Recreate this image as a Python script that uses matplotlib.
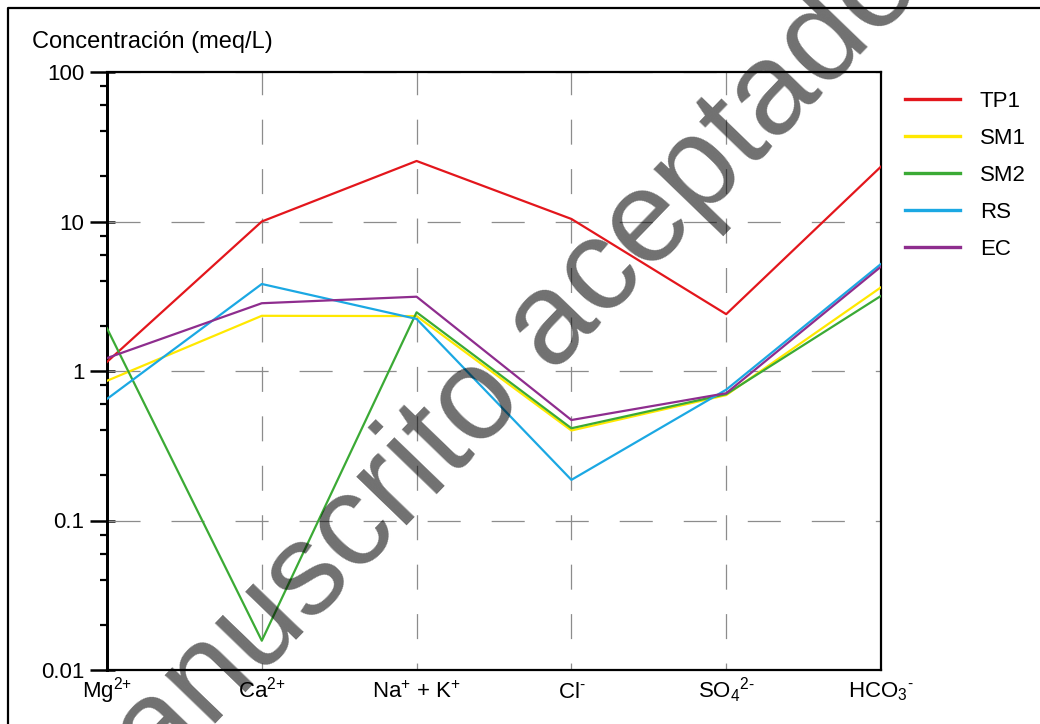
import matplotlib

matplotlib.use("Agg")
import matplotlib.pyplot as plt
from matplotlib.lines import Line2D
from matplotlib.ticker import LogLocator, NullFormatter, FixedLocator

plt.rcParams["font.family"] = ["Liberation Sans", "DejaVu Sans"]
plt.rcParams["mathtext.fontset"] = "custom"
plt.rcParams["mathtext.rm"] = "Liberation Sans"
plt.rcParams["mathtext.it"] = "Liberation Sans:italic"
plt.rcParams["lines.scale_dashes"] = False

# ions on the x axis
ions = [r"$\mathregular{Mg^{2{+}}}$", r"$\mathregular{Ca^{2{+}}}$", r"$\mathregular{Na^{{+}}}$ + $\mathregular{K^{{+}}}$",
        r"$\mathregular{Cl^{\text{-}}}$", r"$\mathregular{SO_4{}^{2\text{-}}}$", r"$\mathregular{HCO_3{}^{\text{-}}}$"]

# concentrations (meq/L)
tp1 = [1.15, 10.0, 25.4, 10.4, 2.4, 23.3]
sm1 = [0.86, 2.34, 2.33, 0.40, 0.69, 3.63]
sm2 = [1.93, 0.0157, 2.47, 0.414, 0.70, 3.18]
rs = [0.65, 3.82, 2.23, 0.187, 0.75, 5.2]
ec = [1.22, 2.84, 3.14, 0.47, 0.71, 4.99]

samples = ["TP1", "SM1", "SM2", "RS", "EC"]
colors = ["#E3161C", "#FFE800", "#3BAA35", "#1BA8E3", "#8E2D8E"]
yticks = [0.01, 0.1, 1, 10, 100]

W, H = 1040, 724
fig = plt.figure(figsize=(W / 100, H / 100), dpi=100)
ax = fig.add_axes([107 / W, 1 - 670 / H, 774 / W, 598 / H])

xs = list(range(len(ions)))
for name, vals, col in zip(samples, [tp1, sm1, sm2, rs, ec], colors):
    ax.plot(xs, vals, color=col, lw=1.6, label=name, zorder=3)

ax.set_yscale("log")
ax.set_ylim(0.01, 100)
ax.set_xlim(0, len(ions) - 1)
ax.yaxis.set_major_locator(FixedLocator(yticks))
ax.set_yticklabels(["0.01", "0.1", "1", "10", "100"])
ax.yaxis.set_minor_locator(LogLocator(base=10, subs=[2, 4, 6, 8]))
ax.yaxis.set_minor_formatter(NullFormatter())
ax.set_xticks(xs)
ax.set_xticklabels(ions)
for lbl in ax.get_xticklabels():
    lbl.set_verticalalignment("baseline")

ax.tick_params(axis="y", which="major", direction="out", length=12.2, width=1.8, pad=4, labelsize=16)
ax.tick_params(axis="y", which="minor", direction="out", length=5, width=1.6)
ax.tick_params(axis="x", length=0, pad=20, labelsize=16)

# short inward part of the major ticks
sec = ax.secondary_yaxis("left")
sec.yaxis.set_major_locator(FixedLocator(yticks))
sec.yaxis.set_minor_locator(FixedLocator([]))
sec.tick_params(axis="y", which="major", direction="in", length=5.8, width=1.8, labelleft=False)
sec.spines["left"].set_linewidth(2.0)

for side in ["top", "right", "bottom"]:
    ax.spines[side].set_linewidth(1.6)
ax.spines["left"].set_linewidth(2.0)

ax.yaxis.grid(True, which="major", color="#8c8c8c", lw=0.9, linestyle=(0, (23.8, 22.3)))
ax.xaxis.grid(True, color="#8c8c8c", lw=0.9, linestyle=(13, (18, 17.6)))
ax.set_axisbelow(True)

fig.text(32 / W, 1 - 42 / H, "Concentración (meq/L)", fontsize=17, ha="left", va="center")

leg = ax.legend(loc="upper left", bbox_to_anchor=(905 / W, 1 - 91 / H), bbox_transform=fig.transFigure,
                frameon=False, fontsize=16, handlelength=2.47, handletextpad=0.9, labelspacing=0.72,
                borderpad=0, borderaxespad=0)
for h in leg.get_lines():
    h.set_linewidth(2.4)

# outer frame (cut at right and bottom)
fig.add_artist(Line2D([8 / W, 8 / W, 1.0], [0.0, 1 - 8 / H, 1 - 8 / H], transform=fig.transFigure,
                      color="black", lw=1.6))

# watermark
fig.text(504 / W, 1 - 424 / H, "Manuscrito aceptado", fontsize=94, rotation=46, rotation_mode="anchor",
         ha="center", va="baseline", color="black", alpha=0.56, zorder=10)

fig.savefig("out.png", dpi=100)
